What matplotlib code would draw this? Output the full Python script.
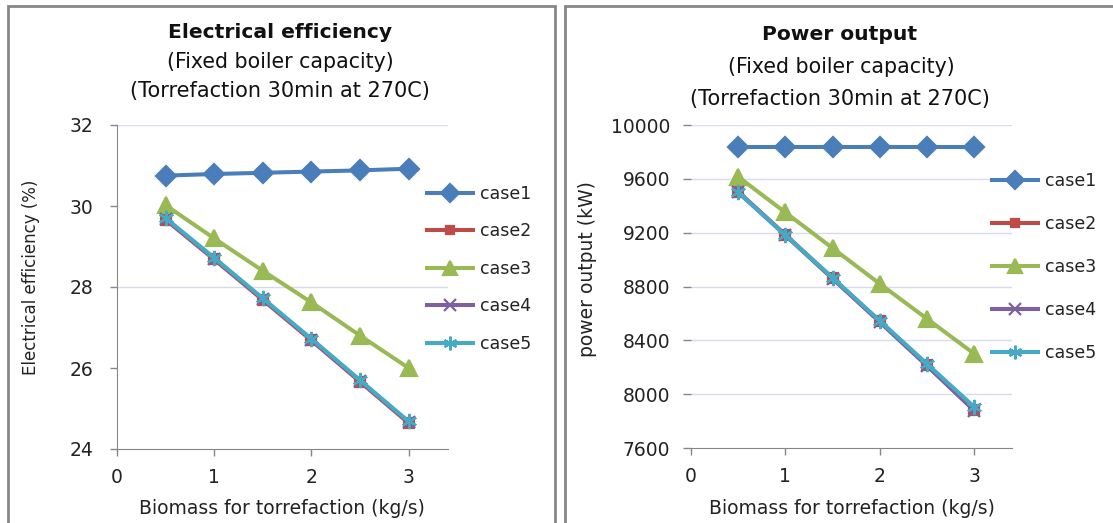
import matplotlib
matplotlib.use("Agg")
import matplotlib.pyplot as plt
from matplotlib.patches import Rectangle

plt.rcParams['font.family'] = ['DejaVu Sans']

biomass = [0.5, 1.0, 1.5, 2.0, 2.5, 3.0]
cases = ["case1", "case2", "case3", "case4", "case5"]

eff_case1 = [30.75, 30.79, 30.82, 30.85, 30.88, 30.92]
eff_case2 = [29.66, 28.68, 27.68, 26.68, 25.66, 24.64]
eff_case3 = [30.02, 29.20, 28.40, 27.62, 26.80, 26.00]
eff_case4 = [29.68, 28.70, 27.70, 26.70, 25.68, 24.66]
eff_case5 = [29.70, 28.72, 27.72, 26.72, 25.70, 24.68]

pow_case1 = [9835, 9835, 9835, 9835, 9835, 9835]
pow_case2 = [9505, 9185, 8860, 8540, 8215, 7880]
pow_case3 = [9615, 9350, 9085, 8820, 8560, 8300]
pow_case4 = [9500, 9180, 8858, 8535, 8210, 7878]
pow_case5 = [9500, 9182, 8865, 8545, 8225, 7905]

eff_ticks = [24, 26, 28, 30, 32]
pow_ticks = [7600, 8000, 8400, 8800, 9200, 9600, 10000]
x_ticks = [0, 1, 2, 3]

colors = ["#4a7ebb", "#be4b48", "#98b954", "#7d60a0", "#46aac5"]
markers = ["D", "s", "^", "x", (6, 2, 0)]
msizes = [10, 7, 11, 9, 11]

W, H = 1113, 523
fig = plt.figure(figsize=(W / 100, H / 100), dpi=100)

def px_rect(l, r, t, b):
    return [l / W, (H - b) / H, (r - l) / W, (b - t) / H]

# panel borders
fig.patches.append(Rectangle((8 / W, -0.05), (555 - 8) / W, (H - 6) / H + 0.05,
                             transform=fig.transFigure, fill=False,
                             edgecolor="#878787", linewidth=2))
fig.patches.append(Rectangle((565 / W, -0.05), (W - 565) / W + 0.05, (H - 6) / H + 0.05,
                             transform=fig.transFigure, fill=False,
                             edgecolor="#878787", linewidth=2))

grid_c = "#d9d9ef"
spine_c = "#868686"
txt_c = "#222222"
tick_fs = 13.5

def style(ax, yt, ylim, grid_vals, show_left, ypad, ylen):
    ax.set_xlim(0, 3.4)
    ax.set_ylim(*ylim)
    ax.set_xticks(x_ticks)
    ax.set_yticks(yt)
    for v in grid_vals:
        ax.axhline(v, color=grid_c, lw=1, zorder=0)
    for s in ["top", "right"]:
        ax.spines[s].set_visible(False)
    ax.spines["left"].set_visible(show_left)
    ax.spines["left"].set_color(spine_c)
    ax.spines["bottom"].set_color(spine_c)
    ax.tick_params(axis="both", direction="out", color=spine_c, labelsize=tick_fs,
                   labelcolor=txt_c, width=1)
    ax.tick_params(axis="y", pad=ypad, length=ylen)
    ax.tick_params(axis="x", pad=9, length=5)

def plot_series(ax, series):
    for vals, c, m, ms in zip(series, colors, markers, msizes):
        ax.plot(biomass, vals, color=c, lw=2.9, marker=m, markersize=ms,
                markeredgecolor=c, markerfacecolor=c, markeredgewidth=1.6,
                clip_on=False)

# left panel
ax1 = fig.add_axes(px_rect(117, 447.5, 125, 449))
plot_series(ax1, [eff_case1, eff_case2, eff_case3, eff_case4, eff_case5])
style(ax1, eff_ticks, (24, 32), [28, 32], True, 12, 5)
ax1.set_xlabel("Biomass for torrefaction (kg/s)", fontsize=13.5, color=txt_c, labelpad=8)
ax1.set_ylabel("Electrical efficiency (%)", fontsize=12, color=txt_c)

# right panel
ax2 = fig.add_axes(px_rect(691, 1012, 125, 448))
plot_series(ax2, [pow_case1, pow_case2, pow_case3, pow_case4, pow_case5])
style(ax2, pow_ticks, (7600, 10000), pow_ticks[1:], False, 9, 6)
ax2.set_xlabel("Biomass for torrefaction (kg/s)", fontsize=13.5, color=txt_c, labelpad=9)
ax2.set_ylabel("power output (kW)", fontsize=13.5, color=txt_c)

# place y labels at measured centres
ax1.yaxis.set_label_coords((31 - 117) / (447.5 - 117), (449 - 277) / (449 - 125))
ax2.yaxis.set_label_coords((587 - 691) / (1012 - 691), (448 - 269) / (448 - 125))
ax1.yaxis.label.set_va("center")
ax2.yaxis.label.set_va("center")

# titles
def ftext(x, y, s, **kw):
    fig.text(x / W, 1 - y / H, s, ha="center", va="center", color="#111111", **kw)

ftext(280, 32, "Electrical efficiency", fontsize=14.6, fontweight="bold")
ftext(280, 62, "(Fixed boiler capacity)", fontsize=14.8)
ftext(280, 91, "(Torrefaction 30min at 270C)", fontsize=15)
ftext(840, 35, "Power output", fontsize=14.6, fontweight="bold")
ftext(841, 67, "(Fixed boiler capacity)", fontsize=14.8)
ftext(840, 99, "(Torrefaction 30min at 270C)", fontsize=15)

# legends
for ax, lx, ty, ls in [(ax1, 427, 185, 1.12), (ax2, 992, 172, 1.44)]:
    handles = ax.get_lines()[:5]
    leg = fig.legend(handles, cases, loc="upper left",
                     bbox_to_anchor=(lx / W, 1 - ty / H), bbox_transform=fig.transFigure,
                     frameon=False, fontsize=12.5, labelspacing=ls,
                     handlelength=2.65, handletextpad=0.4, borderpad=0,
                     borderaxespad=0, markerscale=0.9)
    for t in leg.get_texts():
        t.set_color(txt_c)

fig.savefig("out.png", dpi=100)
